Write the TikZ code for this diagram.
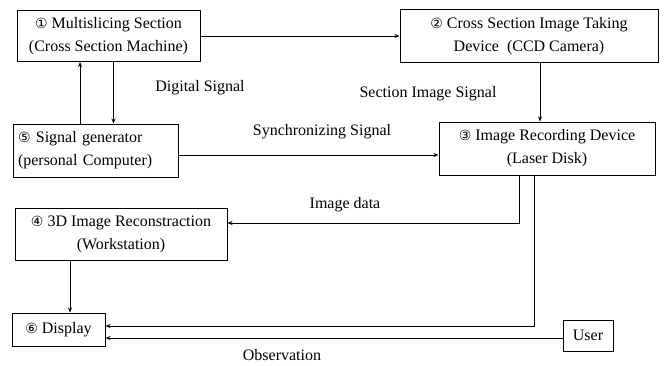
\documentclass[tikz,border=0pt]{standalone}
\usepackage{fontspec}
\setmainfont{Liberation Serif}
\newfontfamily\circfont{DejaVu Sans}
\usetikzlibrary{arrows.meta}
\newcommand\cnum[1]{{\circfont\fontsize{14}{14}\selectfont #1}}
\begin{document}
\begin{tikzpicture}[x=1pt,y=-1pt,
    box/.style={draw,line width=1pt,inner sep=0pt,font=\fontsize{16}{23}\selectfont},
    lbl/.style={font=\fontsize{16}{19}\selectfont,inner sep=0pt},
    arr/.style={line width=1pt,-{Stealth[length=5pt,width=4pt]}}]
  \useasboundingbox (0,0) rectangle (667,365);
  \node[box,minimum width=183,minimum height=51,align=center] (msec) at (108.5,36)
    {\cnum{①} Multislicing Section\\(Cross Section Machine)};
  \node[box,minimum width=258,minimum height=53,align=center] (ccd) at (529,36)
    {\cnum{②} Cross Section Image Taking\\Device~ (CCD Camera)};
  \node[box,minimum width=165,minimum height=53,align=left,text width=155] (sgen) at (95.5,150.5)
    {\cnum{⑤} Signal generator\\(personal Computer)};
  \node[box,minimum width=216,minimum height=53,align=center] (rec) at (547,148.5)
    {\cnum{③} Image Recording Device\\(Laser Disk)};
  \node[box,minimum width=212,minimum height=52,align=center] (recon) at (121,234)
    {\cnum{④} 3D Image Reconstraction\\(Workstation)};
  \node[box,minimum width=93,minimum height=33] (disp) at (58.5,329.5) {\cnum{⑥} Display};
  \node[box,minimum width=50,minimum height=31] (user) at (588,335.5) {User};

  \node[lbl] (dig) at (200,88) {Digital Signal};
  \node[lbl] (sis) at (428,94) {Section Image Signal};
  \node[lbl] (syn) at (322,132) {Synchronizing Signal};
  \node[lbl] (imd) at (345,205) {Image data};
  \node[lbl] (obs) at (282,355) {Observation};

  \draw[arr] (msec.east) -- (msec.east -| ccd.west);
  \draw[arr] ([xshift=-15.5pt]sgen.north) -- ([xshift=-15.5pt]sgen.north |- msec.south);
  \draw[arr] ([xshift=5pt]msec.south) -- ([xshift=5pt]msec.south |- sgen.north);
  \draw[arr] ([xshift=11pt]ccd.south) -- ([xshift=11pt]ccd.south |- rec.north);
  \draw[arr] ([yshift=-4.5pt]sgen.east) -- ([yshift=-4.5pt]sgen.east -| rec.west);
  \draw[arr] ([xshift=-28pt]rec.south) |- ([yshift=11pt]recon.east);
  \draw[arr] ([xshift=-13pt]rec.south) |- ([yshift=3.5pt]disp.east);
  \draw[arr] ([yshift=-2.5pt]user.west) -- ([yshift=-2.5pt]user.west -| disp.east);
  \draw[arr] ([xshift=-51pt]recon.south) -- ([xshift=-51pt]recon.south |- disp.north);
\end{tikzpicture}
\end{document}
